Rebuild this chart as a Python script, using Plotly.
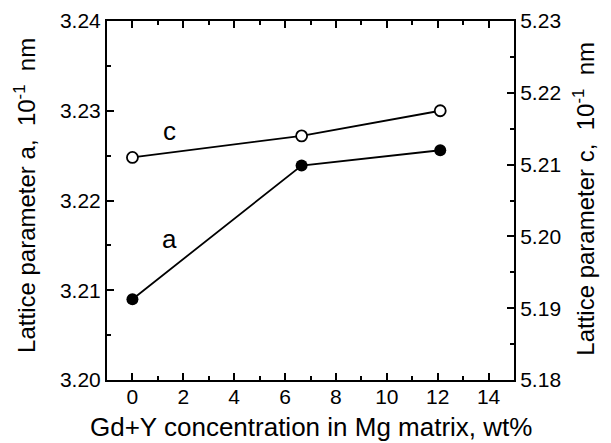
import plotly.graph_objects as go

conc = [0, 6.65, 12.1]
lattice_a = [3.209, 3.2239, 3.2256]
lattice_c = [5.2110, 5.2140, 5.2175]

x_ticks = [0, 2, 4, 6, 8, 10, 12, 14]
a_ticks = [3.20, 3.21, 3.22, 3.23, 3.24]
c_ticks = [5.18, 5.19, 5.20, 5.21, 5.22, 5.23]

FONT = "Liberation Sans, Arial, sans-serif"
TICK_SIZE = 21
TITLE_SIZE = 26
YTITLE_SIZE = 24

fig = go.Figure()
fig.add_trace(go.Scatter(
    x=conc, y=lattice_a, mode="lines+markers", yaxis="y",
    line=dict(color="black", width=1.8),
    marker=dict(symbol="circle", size=12, color="black"),
    showlegend=False,
))
fig.add_trace(go.Scatter(
    x=conc, y=lattice_c, mode="lines+markers", yaxis="y2",
    line=dict(color="black", width=1.8),
    marker=dict(symbol="circle", size=11, color="white", line=dict(color="black", width=1.8)),
    showlegend=False,
))

# series labels
fig.add_annotation(x=1.45, y=3.2277, xref="x", yref="y", text="c", showarrow=False,
                   font=dict(family=FONT, size=TITLE_SIZE, color="black"))
fig.add_annotation(x=1.45, y=3.2157, xref="x", yref="y", text="a", showarrow=False,
                   font=dict(family=FONT, size=TITLE_SIZE, color="black"))

# axis titles
fig.add_annotation(x=0.501, y=-0.13, xref="paper", yref="paper", xanchor="center", yanchor="middle",
                   text="Gd+Y concentration in Mg matrix, wt%", showarrow=False,
                   font=dict(family=FONT, size=TITLE_SIZE, color="black"))
fig.add_annotation(x=-0.202, y=0.515, xref="paper", yref="paper", xanchor="center", yanchor="middle",
                   text="Lattice parameter a,  10<sup>-1</sup>  nm", showarrow=False, textangle=-90,
                   font=dict(family=FONT, size=YTITLE_SIZE, color="black"))
fig.add_annotation(x=1.172, y=0.505, xref="paper", yref="paper", xanchor="center", yanchor="middle",
                   text="Lattice parameter c,  10<sup>-1</sup>  nm", showarrow=False, textangle=-90,
                   font=dict(family=FONT, size=YTITLE_SIZE, color="black"))

axis_common = dict(
    showline=True, linecolor="black", linewidth=2, showgrid=False, zeroline=False,
    ticks="inside", ticklen=7, tickwidth=1.5, tickcolor="black", automargin=False,
    tickfont=dict(family=FONT, size=TICK_SIZE, color="black"),
)

fig.update_layout(
    width=603, height=435,
    margin=dict(l=99, r=97, t=13, b=63),
    paper_bgcolor="white", plot_bgcolor="white",
    font=dict(family=FONT, color="black"),
    xaxis=dict(
        range=[-1, 15], tickvals=x_ticks, ticktext=[str(v) for v in x_ticks],
        mirror="ticks", ticklabelstandoff=-3,
        minor=dict(dtick=1, tick0=0, ticks="inside", ticklen=4, tickwidth=1.5, tickcolor="black"),
        **axis_common,
    ),
    yaxis=dict(
        range=[3.20, 3.24], tickvals=a_ticks, ticktext=[f"{v:.2f}" for v in a_ticks],
        minor=dict(dtick=0.005, tick0=3.20, ticks="inside", ticklen=4, tickwidth=1.5, tickcolor="black"),
        **axis_common,
    ),
    yaxis2=dict(
        range=[5.18, 5.23], tickvals=c_ticks, ticktext=[f"{v:.2f}" for v in c_ticks],
        overlaying="y", side="right", anchor="x",
        minor=dict(dtick=0.005, tick0=5.18, ticks="inside", ticklen=4, tickwidth=1.5, tickcolor="black"),
        **axis_common,
    ),
)

fig.write_html("out.html")
